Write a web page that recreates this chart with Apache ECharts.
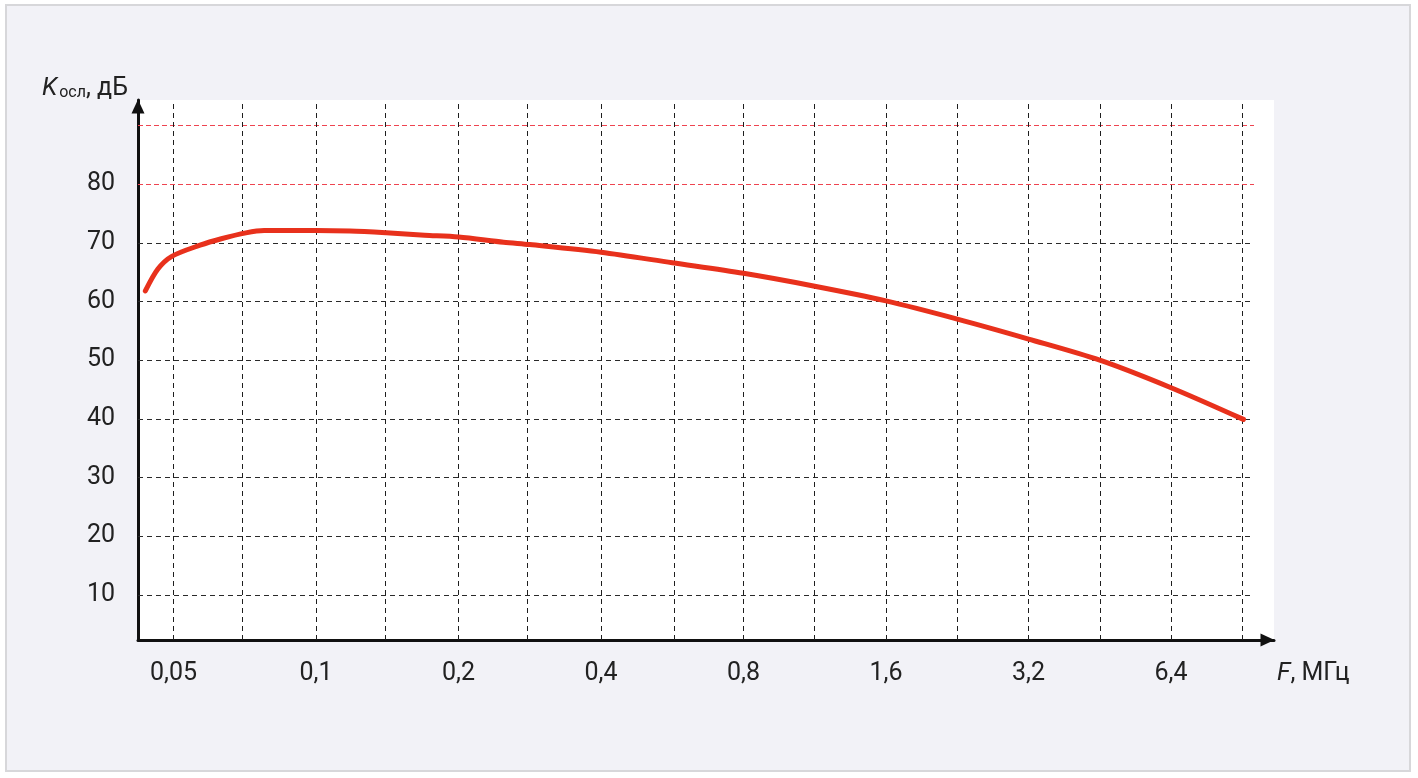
<!DOCTYPE html>
<html><head><meta charset="utf-8">
<script src="https://cdn.jsdelivr.net/npm/echarts@6/dist/echarts.min.js"></script>
<style>
html,body{margin:0;padding:0;background:#fff;width:1418px;height:778px;overflow:hidden;}
#frame{position:absolute;left:5px;top:4px;width:1406px;height:768px;box-sizing:border-box;border:2px solid #d7d7da;background:#f2f2f7;}
#chart{position:absolute;left:0;top:0;width:1418px;height:778px;}
</style></head><body>
<div id="frame"></div><div id="chart"></div>
<script>
// Frequency, MHz (log2 axis) and attenuation K_осл, dB
const freqMHz = [0.0436, 0.0463, 0.0496, 0.0569, 0.0631, 0.0711, 0.0777, 0.1, 0.118, 0.1407, 0.1696, 0.2, 0.249, 0.2828, 0.4, 0.5657, 0.8, 1.131, 1.6, 2.263, 3.2, 4.525, 6.4, 9.1];
const attenDb = [61.8, 65.5, 67.7, 69.6, 70.7, 71.7, 72.1, 72.1, 72.0, 71.7, 71.3, 71.0, 70.1, 69.7, 68.4, 66.6, 64.8, 62.6, 60.1, 57.0, 53.6, 50.0, 45.3, 39.9];

const xLabelValues = [0.05, 0.1, 0.2, 0.4, 0.8, 1.6, 3.2, 6.4];
const xLabelTexts = ['0,05', '0,1', '0,2', '0,4', '0,8', '1,6', '3,2', '6,4'];
const xGridValues = [0.05, 0.0707, 0.1, 0.1414, 0.2, 0.2828, 0.4, 0.5657, 0.8, 1.1314, 1.6, 2.2627, 3.2, 4.5255, 6.4, 9.051];
const yLabelValues = [10, 20, 30, 40, 50, 60, 70, 80];
const yGridValues = [10, 20, 30, 40, 50, 60, 70];
const yRedGridValues = [80, 90];

const FONT = 'Roboto';
const TXT = '#222';
const Y_MIN = 2.29, Y_MAX = 94.35;

const GRAY_LINE = {color: '#2a2a2a', width: 1, type: [5, 4]};
const VERT_LINE = {color: '#1e1e1e', width: 1, type: [5, 4]};
const RED_LINE = {color: '#ee4450', width: 1, type: [5, 3]};

function xFmt(v) {
  let best = 0, bd = Infinity;
  xLabelValues.forEach((x, i) => { const d = Math.abs(Math.log(x) - Math.log(v)); if (d < bd) { bd = d; best = i; } });
  return xLabelTexts[best];
}

const gridLines = []
  .concat(yGridValues.map(v => ({yAxis: v, lineStyle: GRAY_LINE})))
  .concat(yRedGridValues.map(v => ({yAxis: v, lineStyle: RED_LINE})))
  .concat(xGridValues.map(v => ({xAxis: v, lineStyle: VERT_LINE})));

const chart = echarts.init(document.getElementById('chart'), null, {renderer: 'canvas'});
chart.setOption({
  backgroundColor: 'transparent',
  animation: false,
  title: [
    {
      left: 42, top: 76, padding: 0,
      text: '{k|K}{s|осл}{n|, дБ}',
      textStyle: {
        fontWeight: 'normal',
        rich: {
          k: {fontFamily: FONT, fontSize: 25, fontStyle: 'italic', fontWeight: 'normal', color: TXT, lineHeight: 25, verticalAlign: 'top'},
          s: {fontFamily: FONT, fontSize: 16, fontWeight: 'normal', color: TXT, lineHeight: 16, padding: [18, 0, 0, 2], verticalAlign: 'bottom'},
          n: {fontFamily: FONT, fontSize: 25, fontWeight: 'normal', color: TXT, lineHeight: 25, verticalAlign: 'top'}
        }
      }
    },
    {
      left: 1277, top: 661, padding: 0,
      text: '{i|F}{n|, МГц}',
      textStyle: {
        fontWeight: 'normal',
        rich: {
          i: {fontFamily: FONT, fontSize: 25, fontStyle: 'italic', fontWeight: 'normal', color: TXT, lineHeight: 25},
          n: {fontFamily: FONT, fontSize: 25, fontWeight: 'normal', color: TXT, lineHeight: 25}
        }
      }
    }
  ],
  grid: [
    {left: 138, right: 144, top: 100, bottom: 138, show: true, backgroundColor: '#ffffff', borderWidth: 0, containLabel: false},
    {left: 138, right: 164, top: 100, bottom: 138, show: false, containLabel: false}
  ],
  xAxis: [
    {
      gridIndex: 0, type: 'value', min: 0, max: 1,
      axisLine: {show: true, lineStyle: {color: '#111', width: 3}, symbol: ['none', 'triangle'], symbolSize: [13, 14], symbolOffset: [0, -6.5]},
      axisTick: {show: false}, axisLabel: {show: false}, splitLine: {show: false}
    },
    {
      gridIndex: 1, type: 'log', logBase: 2, min: 0.04207, max: 9.58,
      axisLine: {show: false},
      axisTick: {show: false},
      axisLabel: {show: true, customValues: xLabelValues, formatter: xFmt, fontFamily: FONT, fontSize: 25, color: TXT, margin: 21},
      splitLine: {show: false},
      minorSplitLine: {show: false}
    }
  ],
  yAxis: [
    {
      gridIndex: 0, type: 'value', min: 0, max: 1,
      axisLine: {show: true, lineStyle: {color: '#111', width: 3}, symbol: ['none', 'triangle'], symbolSize: [13, 14], symbolOffset: [0, -6.5]},
      axisTick: {show: false}, axisLabel: {show: false}, splitLine: {show: false}
    },
    {
      gridIndex: 1, type: 'value', min: Y_MIN, max: Y_MAX,
      axisLine: {show: false},
      axisTick: {show: false},
      axisLabel: {show: true, customValues: yLabelValues, fontFamily: FONT, fontSize: 25, color: TXT, margin: 23},
      splitLine: {show: false}
    }
  ],
  series: [
    {
      type: 'line', xAxisIndex: 1, yAxisIndex: 1,
      data: freqMHz.map((f, i) => [f, attenDb[i]]),
      smooth: 0.3, showSymbol: false, symbol: 'none',
      lineStyle: {color: '#e8311c', width: 5, cap: 'round', join: 'round'},
      z: 5,
      markLine: {
        silent: true, z: 1, symbol: ['none', 'none'], animation: false,
        label: {show: false},
        emphasis: {disabled: true},
        data: gridLines
      }
    }
  ]
});
</script>
</body></html>
